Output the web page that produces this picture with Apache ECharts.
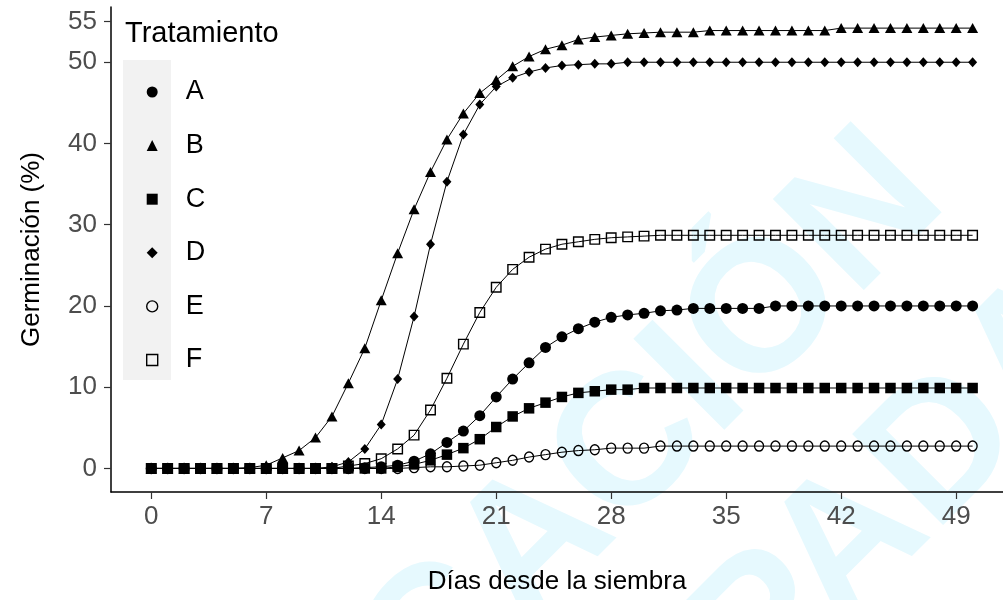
<!DOCTYPE html>
<html>
<head>
<meta charset="utf-8">
<script src="https://cdn.jsdelivr.net/npm/echarts@6/dist/echarts.min.js"></script>
<style>
  html, body { margin: 0; padding: 0; background: #ffffff; }
  #chart { width: 1003px; height: 600px; }
</style>
</head>
<body>
<div id="chart"></div>
<script>
// Days since sowing (one observation per day)
const days = [0,1,2,3,4,5,6,7,8,9,10,11,12,13,14,15,16,17,18,19,20,21,22,23,24,25,
              26,27,28,29,30,31,32,33,34,35,36,37,38,39,40,41,42,43,44,45,46,47,48,49,50];

// Cumulative germination (%) per treatment
const serieA = [0,0,0,0,0,0,0,0,0,0,0,0,0,0.1,0.2,0.4,0.9,1.8,3.2,4.6,6.5,8.8,11.0,13.0,14.9,16.2,
                17.2,18.0,18.6,18.9,19.1,19.4,19.5,19.7,19.7,19.7,19.7,19.7,20.0,20.0,20.0,20.0,20.0,
                20.0,20.0,20.0,20.0,20.0,20.0,20.0,20.0];
const serieB = [0,0,0,0,0,0,0.1,0.4,1.3,2.2,3.8,6.4,10.5,14.8,20.7,26.5,31.9,36.5,40.5,43.7,46.2,
                47.8,49.5,50.7,51.6,52.1,52.8,53.1,53.3,53.5,53.6,53.7,53.7,53.7,53.9,53.9,53.9,53.9,
                53.9,53.9,53.9,53.9,54.2,54.2,54.2,54.2,54.2,54.2,54.2,54.2,54.2];
const serieC = [0,0,0,0,0,0,0,0,0,0,0,0,0,0,0,0.2,0.5,1.0,1.7,2.5,3.6,5.1,6.4,7.4,8.1,8.8,9.3,9.5,
                9.7,9.7,9.9,9.9,9.9,9.9,9.9,9.9,9.9,9.9,9.9,9.9,9.9,9.9,9.9,9.9,9.9,9.9,9.9,9.9,9.9,
                9.9,9.9];
const serieD = [0,0,0,0,0,0,0,0,0,0,0,0.2,0.8,2.4,5.4,11.0,18.7,27.6,35.3,41.1,44.8,47.0,48.1,48.8,
                49.3,49.6,49.7,49.8,49.8,50.0,50.0,50.0,50.0,50.0,50.0,50.0,50.0,50.0,50.0,50.0,50.0,
                50.0,50.0,50.0,50.0,50.0,50.0,50.0,50.0,50.0,50.0];
const serieE = [0,0,0,0,0,0,0,0,0,0,0,0,0,0,0,0,0.1,0.2,0.2,0.3,0.4,0.7,1.0,1.4,1.7,2.0,2.2,2.3,
                2.5,2.5,2.5,2.75,2.75,2.75,2.75,2.75,2.75,2.75,2.75,2.75,2.75,2.75,2.75,2.75,2.75,
                2.75,2.75,2.75,2.75,2.75,2.75];
const serieF = [0,0,0,0,0,0,0,0,0,0,0,0,0.3,0.6,1.2,2.4,4.1,7.2,11.1,15.3,19.2,22.3,24.5,26.0,27.0,
                27.6,27.9,28.2,28.4,28.5,28.6,28.7,28.7,28.7,28.7,28.7,28.7,28.7,28.7,28.7,28.7,28.7,
                28.7,28.7,28.7,28.7,28.7,28.7,28.7,28.7,28.7];

const treatments = ['A', 'B', 'C', 'D', 'E', 'F'];
const xTicks = [0, 7, 14, 21, 28, 35, 42, 49];
const yTicks = [0, 10, 20, 30, 40, 50, 55];

const FONT = '"Liberation Sans", Arial, sans-serif';

// marker look per treatment: filled circle, triangle, square, diamond; open circle, open square
const markers = {
  A: { symbol: 'circle',   size: 11, hollow: false },
  B: { symbol: 'triangle', size: [11, 10], hollow: false },
  C: { symbol: 'rect',     size: 10.5, hollow: false },
  D: { symbol: 'diamond',  size: [9, 10], hollow: false },
  E: { symbol: 'circle',   size: [9, 10], hollow: true },
  F: { symbol: 'rect',     size: 9.5, hollow: true }
};

const values = { A: serieA, B: serieB, C: serieC, D: serieD, E: serieE, F: serieF };

function markerStyle(m) {
  return m.hollow
    ? { color: 'rgba(0,0,0,0)', borderColor: '#000000', borderWidth: 1.4 }
    : { color: '#000000', borderColor: '#000000', borderWidth: 0 };
}

const series = treatments.map(function (t) {
  const m = markers[t];
  return {
    name: t,
    type: 'line',
    data: days.map(function (d, i) { return [d, values[t][i]]; }),
    symbol: m.symbol,
    symbolSize: m.size,
    showAllSymbol: true,
    lineStyle: { color: '#000000', width: 1 },
    itemStyle: markerStyle(m),
    emphasis: { disabled: true },
    animation: false
  };
});

const legendItems = treatments.map(function (t) {
  const m = markers[t];
  return { name: t, icon: m.symbol, itemStyle: markerStyle(m) };
});

const chart = echarts.init(document.getElementById('chart'), null, { renderer: 'canvas' });

chart.setOption({
  backgroundColor: '#ffffff',
  animation: false,
  title: {
    text: 'Tratamiento',
    left: 120,
    top: 14,
    textStyle: { fontFamily: FONT, fontSize: 29, fontWeight: 'normal', color: '#000000' }
  },
  graphic: [
    {
      type: 'text',
      x: 455, y: 626,
      rotation: Math.PI / 4,
      z: -10,
      silent: true,
      style: {
        text: 'PUBLICACIÓN',
        font: 'bold 187px "Liberation Sans", Arial, sans-serif',
        fill: '#e6f9fe',
        align: 'center',
        verticalAlign: 'middle'
      }
    },
    {
      type: 'text',
      x: 686, y: 709,
      rotation: Math.PI / 4,
      z: -10,
      silent: true,
      style: {
        text: 'ANTICIPADA',
        font: 'bold 187px "Liberation Sans", Arial, sans-serif',
        fill: '#e6f9fe',
        align: 'center',
        verticalAlign: 'middle'
      }
    },
    {
      type: 'rect',
      shape: { x: 123, y: 60, width: 48, height: 320 },
      z: -5,
      silent: true,
      style: { fill: '#f2f2f2' }
    }
  ],
  legend: {
    data: legendItems,
    orient: 'vertical',
    left: 141,
    top: 72,
    itemWidth: 11,
    itemHeight: 11,
    itemGap: 23.6,
    selectedMode: false,
    textStyle: {
      fontFamily: FONT, fontSize: 27, color: '#000000',
      lineHeight: 30, padding: [0, 0, 0, 23]
    }
  },
  grid: { left: 111, right: 0, top: 7, bottom: 108, containLabel: false },
  xAxis: {
    type: 'value',
    min: -2.45,
    max: 51.85,
    name: 'Días desde la siembra',
    nameLocation: 'middle',
    nameGap: 77,
    nameTextStyle: { fontFamily: FONT, fontSize: 26, color: '#000000' },
    axisLine: { show: true, onZero: false, lineStyle: { color: '#000000', width: 1.5 } },
    axisTick: { show: true, length: 7, customValues: xTicks, lineStyle: { color: '#333333', width: 1.2 } },
    axisLabel: { customValues: xTicks, fontFamily: FONT, fontSize: 26, color: '#4d4d4d', margin: 12 },
    splitLine: { show: false }
  },
  yAxis: {
    type: 'value',
    min: -2.9,
    max: 56.8,
    name: 'Germinación (%)',
    nameLocation: 'middle',
    nameGap: 66,
    nameRotate: 90,
    nameTextStyle: { fontFamily: FONT, fontSize: 26, color: '#000000' },
    axisLine: { show: true, onZero: false, lineStyle: { color: '#000000', width: 1.5 } },
    axisTick: { show: true, length: 7, customValues: yTicks, lineStyle: { color: '#333333', width: 1.2 } },
    axisLabel: { customValues: yTicks, fontFamily: FONT, fontSize: 26, color: '#4d4d4d', margin: 14 },
    splitLine: { show: false }
  },
  series: series
});
</script>
</body>
</html>
